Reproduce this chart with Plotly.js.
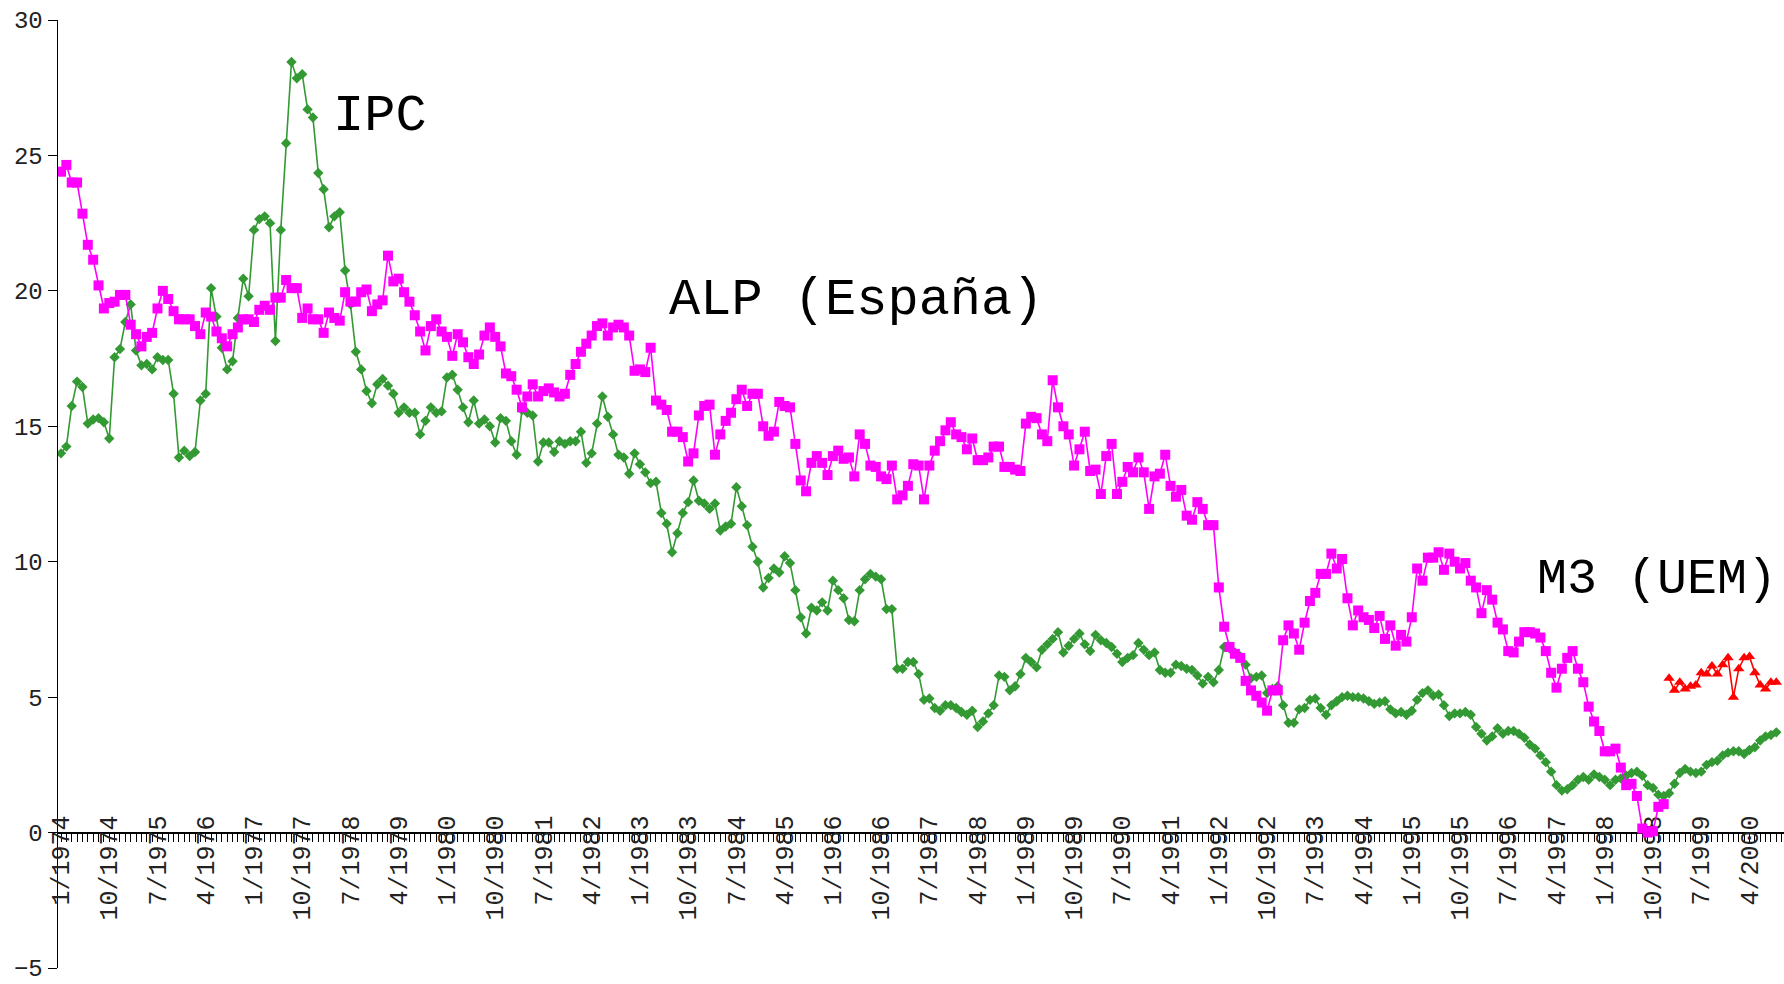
<!DOCTYPE html>
<html>
<head>
<meta charset="utf-8">
<script src="https://cdn.plot.ly/plotly-3.0.1.min.js"></script>
<style>
html,body{margin:0;padding:0;background:#fff;}
#chart{width:1784px;height:984px;}
</style>
</head>
<body>
<div id="chart"></div>
<script>
// Monthly series starting 1/1974 (index 0 = 1/1974)
const tickLabels = ["1/1974","10/1974","7/1975","4/1976","1/1977","10/1977","7/1978","4/1979","1/1980","10/1980","7/1981","4/1982","1/1983","10/1983","7/1984","4/1985","1/1986","10/1986","7/1987","4/1988","1/1989","10/1989","7/1990","4/1991","1/1992","10/1992","7/1993","4/1994","1/1995","10/1995","7/1996","4/1997","1/1998","10/1998","7/1999","4/2000"];

// IPC (green), 1/1974 - 9/2000
const ipc = [
14.0,14.25,15.75,16.65,16.45,15.1,15.25,15.3,15.15,14.55,17.55,17.85,
18.85,19.5,17.8,17.25,17.3,17.1,17.55,17.45,17.45,16.2,13.85,14.1,
13.9,14.05,15.95,16.2,20.1,19.05,17.9,17.1,17.4,19.0,20.45,19.8,
22.25,22.65,22.75,22.5,18.15,22.25,25.45,28.45,27.85,28.0,26.7,26.4,
24.35,23.75,22.35,22.75,22.9,20.75,19.5,17.75,17.1,16.3,15.85,16.55,
16.75,16.5,16.2,15.5,15.7,15.5,15.5,14.7,15.2,15.7,15.5,15.55,
16.8,16.9,16.35,15.7,15.15,15.95,15.1,15.25,15.0,14.4,15.3,15.2,
14.45,13.95,15.6,15.5,15.4,13.7,14.4,14.4,14.05,14.45,14.35,14.45,
14.45,14.8,13.65,14.0,15.1,16.1,15.35,14.7,13.95,13.85,13.25,14.0,
13.6,13.3,12.9,12.95,11.8,11.4,10.35,11.05,11.8,12.2,13.0,12.25,
12.15,11.95,12.15,11.15,11.3,11.4,12.75,12.05,11.35,10.55,10.0,9.05,
9.4,9.75,9.6,10.2,9.95,8.95,7.95,7.35,8.3,8.2,8.5,8.2,
9.3,8.95,8.65,7.85,7.8,8.95,9.35,9.55,9.45,9.35,8.25,8.25,
6.05,6.05,6.3,6.3,5.85,4.9,4.95,4.6,4.5,4.7,4.7,4.6,
4.45,4.35,4.5,3.9,4.1,4.4,4.7,5.8,5.75,5.25,5.4,5.85,
6.45,6.3,6.1,6.75,6.95,7.15,7.4,6.65,6.9,7.15,7.35,6.95,
6.7,7.3,7.1,7.0,6.85,6.6,6.3,6.45,6.55,7.0,6.75,6.55,
6.65,6.0,5.9,5.9,6.2,6.15,6.05,6.0,5.8,5.5,5.75,5.55,
6.0,6.85,6.8,6.65,6.5,6.2,5.7,5.75,5.8,5.15,5.3,5.4,
4.7,4.05,4.05,4.55,4.6,4.9,4.95,4.6,4.35,4.7,4.85,5.0,
5.05,5.0,5.0,4.95,4.85,4.75,4.8,4.85,4.55,4.4,4.45,4.35,
4.5,4.9,5.15,5.25,5.05,5.1,4.7,4.3,4.4,4.4,4.45,4.35,
3.9,3.65,3.4,3.55,3.85,3.65,3.75,3.75,3.65,3.5,3.25,3.1,
2.85,2.6,2.25,1.75,1.55,1.6,1.75,1.95,2.05,1.95,2.15,2.05,
1.95,1.75,1.95,2.0,2.1,2.2,2.25,2.1,1.75,1.65,1.4,1.35,
1.45,1.8,2.2,2.35,2.25,2.2,2.25,2.5,2.6,2.65,2.85,2.95,
3.0,3.0,2.9,3.05,3.15,3.4,3.55,3.6,3.7
];

// ALP (España) (magenta), 1/1974 - 12/1998
const alp = [
24.4,24.65,24.0,24.0,22.85,21.7,21.15,20.2,19.35,19.55,19.6,19.85,
19.85,18.75,18.4,17.95,18.3,18.45,19.35,20.0,19.7,19.25,18.95,18.95,
18.95,18.7,18.4,19.2,19.05,18.5,18.25,17.95,18.4,18.65,18.95,18.95,
18.85,19.3,19.45,19.3,19.75,19.75,20.4,20.1,20.1,19.0,19.35,18.95,
18.95,18.45,19.2,19.0,18.9,19.95,19.6,19.6,19.95,20.05,19.25,19.5,
19.65,21.3,20.35,20.45,19.95,19.6,19.1,18.5,17.8,18.7,18.95,18.5,
18.3,17.6,18.4,18.1,17.55,17.3,17.65,18.35,18.65,18.3,17.95,16.95,
16.85,16.35,15.7,16.1,16.55,16.1,16.3,16.4,16.25,16.1,16.2,16.9,
17.3,17.75,18.05,18.35,18.7,18.8,18.35,18.65,18.75,18.65,18.35,17.05,
17.1,17.0,17.9,15.95,15.8,15.6,14.8,14.8,14.6,13.7,14.0,15.4,
15.75,15.8,13.95,14.7,15.2,15.5,16.0,16.35,15.75,16.2,16.2,15.0,
14.65,14.8,15.9,15.75,15.7,14.35,13.0,12.6,13.65,13.9,13.65,13.2,
13.9,14.1,13.8,13.85,13.15,14.7,14.35,13.55,13.5,13.15,13.05,13.55,
12.3,12.45,12.8,13.6,13.55,12.3,13.55,14.1,14.45,14.85,15.15,14.7,
14.6,14.15,14.55,13.75,13.75,13.85,14.25,14.25,13.5,13.5,13.4,13.35,
15.1,15.35,15.3,14.7,14.45,16.7,15.7,15.0,14.7,13.55,14.15,14.8,
13.35,13.4,12.5,13.9,14.35,12.5,12.95,13.5,13.3,13.85,13.3,11.95,
13.15,13.25,13.95,12.8,12.4,12.65,11.7,11.55,12.2,11.95,11.35,11.35,
9.05,7.6,6.85,6.6,6.45,5.6,5.25,5.05,4.8,4.5,5.25,5.25,
7.1,7.65,7.35,6.75,7.75,8.55,8.85,9.55,9.55,10.3,9.75,10.1,
8.65,7.65,8.2,7.95,7.85,7.55,8.0,7.15,7.65,6.9,7.3,7.05,
7.95,9.75,9.3,10.15,10.15,10.35,9.7,10.3,10.0,9.75,9.95,9.3,
9.05,8.1,8.95,8.6,7.75,7.5,6.7,6.65,7.05,7.4,7.4,7.35,
7.2,6.7,5.9,5.35,6.05,6.45,6.7,6.05,5.55,4.65,4.1,3.75,
3.0,3.0,3.1,2.4,1.75,1.8,1.35,0.15,0.0,0.05,0.95,1.05
];

// M3 (UEM) (red), 1/1999 - 9/2000
const m3Start = 300;
const m3 = [5.7,5.25,5.55,5.3,5.4,5.45,5.9,5.85,6.15,5.85,6.2,6.45,5.0,6.05,6.45,6.5,5.9,5.45,5.3,5.55,5.55];

const idx = (arr, start) => arr.map((_, i) => start + i);
const tickPos = tickLabels.map((_, i) => i * 9);

const FONT = "Liberation Mono, Courier New, monospace";

const traces = [
  {x: idx(ipc, 0), y: ipc, name: "IPC", type: "scatter", mode: "lines+markers",
   line: {color: "#339933", width: 1.6},
   marker: {symbol: "diamond", size: 8, color: "#339933"}},
  {x: idx(alp, 0), y: alp, name: "ALP (España)", type: "scatter", mode: "lines+markers",
   line: {color: "#ff00ff", width: 1.6},
   marker: {symbol: "square", size: 10, color: "#ff00ff"}},
  {x: idx(m3, m3Start), y: m3, name: "M3 (UEM)", type: "scatter", mode: "lines+markers",
   line: {color: "#ff0000", width: 1.6},
   marker: {symbol: "triangle-up", size: 10, color: "#ff0000"}}
];

const layout = {
  width: 1784, height: 984,
  margin: {l: 58, r: 0, t: 20, b: 16},
  paper_bgcolor: "#ffffff", plot_bgcolor: "#ffffff",
  showlegend: false,
  font: {family: FONT, color: "#222"},
  xaxis: {
    range: [-0.56, 321.44],
    anchor: "free", position: 5/35,
    tickmode: "array", tickvals: tickPos, ticktext: tickLabels,
    tickangle: -90,
    ticks: "outside", ticklen: 8, tickwidth: 1, tickcolor: "#000",
    minor: {dtick: 1, tick0: 0, ticks: "outside", ticklen: 8, tickwidth: 1, tickcolor: "#000"},
    showline: true, linecolor: "#000", linewidth: 2,
    showgrid: false, zeroline: false,
    tickfont: {family: FONT, size: 25, color: "#222"},
    ticklabelstandoff: -36,
    ticklabeloverflow: "allow",
    layer: "below traces"
  },
  yaxis: {
    range: [-5, 30],
    tickmode: "array", tickvals: [-5,0,5,10,15,20,25,30],
    ticks: "outside", ticklen: 9, tickwidth: 1, tickcolor: "#000",
    showline: true, linecolor: "#000", linewidth: 1.5,
    showgrid: false, zeroline: false,
    tickfont: {family: FONT, size: 24, color: "#222"},
    ticklabeloverflow: "allow",
    layer: "below traces"
  },
  annotations: [
    {x: 50.3, y: 26.43, xref: "x", yref: "y", text: "IPC", showarrow: false,
     xanchor: "left", yanchor: "middle", font: {family: FONT, size: 52, color: "#000"}},
    {x: 113.1, y: 19.66, xref: "x", yref: "y", text: "ALP (España)", showarrow: false,
     xanchor: "left", yanchor: "middle", font: {family: FONT, size: 52, color: "#000"}},
    {x: 275.0, y: 9.36, xref: "x", yref: "y", text: "M3 (UEM)", showarrow: false,
     xanchor: "left", yanchor: "middle", font: {family: FONT, size: 50, color: "#000"}}
  ]
};

Plotly.newPlot("chart", traces, layout, {displayModeBar: false, staticPlot: true});
</script>
</body>
</html>
